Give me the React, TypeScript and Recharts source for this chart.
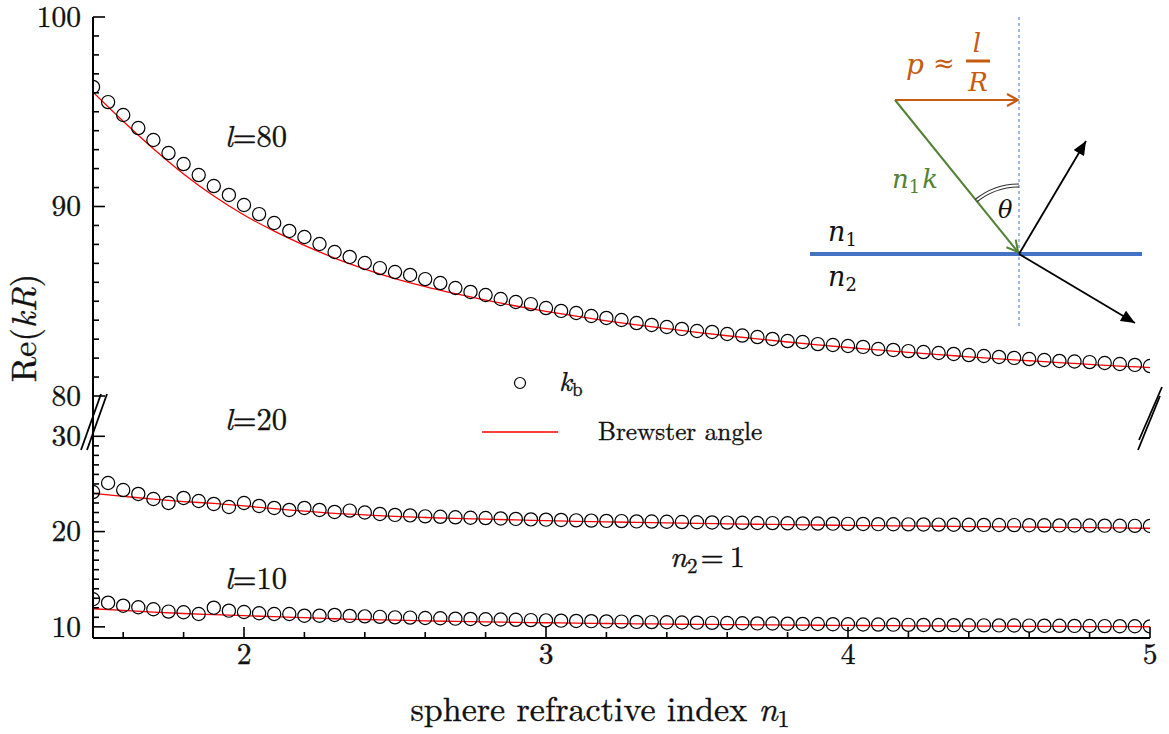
import React from "react";
import { ComposedChart, Line, XAxis, YAxis } from "recharts";

// sphere refractive index n1 (sampled points)
const N1 = [
  1.5, 1.55, 1.6, 1.65, 1.7, 1.75, 1.8, 1.85, 1.9, 1.95,
  2.0, 2.05, 2.1, 2.15, 2.2, 2.25, 2.3, 2.35, 2.4, 2.45,
  2.5, 2.55, 2.6, 2.65, 2.7, 2.75, 2.8, 2.85, 2.9, 2.95,
  3.0, 3.05, 3.1, 3.15, 3.2, 3.25, 3.3, 3.35, 3.4, 3.45,
  3.5, 3.55, 3.6, 3.65, 3.7, 3.75, 3.8, 3.85, 3.9, 3.95,
  4.0, 4.05, 4.1, 4.15, 4.2, 4.25, 4.3, 4.35, 4.4, 4.45,
  4.5, 4.55, 4.6, 4.65, 4.7, 4.75, 4.8, 4.85, 4.9, 4.95, 5.0,
];

// Re(kR) of k_b for l = 80, 20, 10
const KB_L80 = [
  96.31, 95.51, 94.83, 94.14, 93.51, 92.82, 92.24, 91.66, 91.08, 90.61,
  90.08, 89.6, 89.13, 88.71, 88.39, 88.02, 87.6, 87.34, 87.02, 86.75,
  86.54, 86.39, 86.17, 85.96, 85.7, 85.49, 85.33, 85.12, 84.96, 84.85,
  84.64, 84.49, 84.38, 84.22, 84.12, 84.01, 83.85, 83.75, 83.64, 83.54,
  83.43, 83.38, 83.27, 83.19, 83.11, 83.01, 82.9, 82.85, 82.74, 82.69,
  82.64, 82.59, 82.48, 82.43, 82.37, 82.32, 82.27, 82.22, 82.16, 82.11,
  82.06, 82.01, 81.95, 81.9, 81.85, 81.82, 81.79, 81.74, 81.69, 81.64, 81.58,
];
const KB_L20 = [
  24.15, 25.1, 24.36, 23.95, 23.42, 23.0, 23.53, 23.21, 22.9, 22.58,
  23.0, 22.69, 22.48, 22.27, 22.48, 22.27, 22.06, 22.2, 22.0, 21.85,
  21.75, 21.7, 21.6, 21.55, 21.5, 21.45, 21.42, 21.38, 21.33, 21.28,
  21.25, 21.22, 21.18, 21.15, 21.12, 21.1, 21.07, 21.05, 21.03, 21.0,
  20.98, 20.96, 20.94, 20.92, 20.9, 20.89, 20.87, 20.86, 20.84, 20.83,
  20.81, 20.8, 20.78, 20.77, 20.76, 20.75, 20.73, 20.72, 20.71, 20.7,
  20.69, 20.68, 20.67, 20.66, 20.65, 20.64, 20.63, 20.62, 20.61, 20.6, 20.59,
];
const KB_L10 = [
  12.9, 12.54, 12.22, 12.06, 11.85, 11.6, 11.53, 11.35, 12.01, 11.7,
  11.56, 11.43, 11.35, 11.35, 11.17, 11.17, 11.25, 11.15, 11.1, 11.05,
  11.0, 10.97, 10.93, 10.9, 10.86, 10.83, 10.8, 10.77, 10.74, 10.71,
  10.68, 10.65, 10.62, 10.6, 10.57, 10.55, 10.52, 10.5, 10.48, 10.46,
  10.44, 10.42, 10.4, 10.38, 10.36, 10.35, 10.33, 10.31, 10.3, 10.28,
  10.27, 10.25, 10.24, 10.23, 10.21, 10.2, 10.19, 10.18, 10.17, 10.16,
  10.15, 10.14, 10.13, 10.12, 10.11, 10.1, 10.09, 10.08, 10.07, 10.06, 10.05,
];

// Brewster-angle estimate
const N1_BA = [
  1.5, 1.6, 1.7, 1.8, 1.9, 2.0, 2.1, 2.2, 2.3, 2.4, 2.5, 2.6,
  2.7, 2.8, 2.9, 3.0, 3.1, 3.2, 3.3, 3.4, 3.5, 3.6, 3.7, 3.8,
  3.9, 4.0, 4.1, 4.2, 4.3, 4.4, 4.5, 4.6, 4.7, 4.8, 4.9, 5.0,
];
const BA_L80 = [
  96.04, 94.5, 93.05, 91.72, 90.55, 89.55, 88.7, 87.95, 87.28, 86.7, 86.2, 85.77,
  85.4, 85.06, 84.75, 84.47, 84.21, 83.97, 83.75, 83.55, 83.36, 83.18, 83.01, 82.85,
  82.7, 82.56, 82.43, 82.3, 82.18, 82.07, 81.96, 81.86, 81.76, 81.67, 81.58, 81.5,
];
const BA_L20 = [
  24.0, 23.7, 23.4, 23.15, 22.95, 22.7, 22.4, 22.15, 21.9, 21.75, 21.6, 21.48,
  21.38, 21.3, 21.22, 21.15, 21.08, 21.02, 20.96, 20.91, 20.86, 20.81, 20.77, 20.73,
  20.69, 20.65, 20.62, 20.59, 20.56, 20.53, 20.5, 20.47, 20.44, 20.41, 20.38, 20.35,
];
const BA_L10 = [
  11.9, 11.72, 11.55, 11.4, 11.28, 11.17, 11.07, 10.97, 10.85, 10.77, 10.7, 10.63,
  10.57, 10.52, 10.47, 10.43, 10.39, 10.35, 10.32, 10.29, 10.26, 10.24, 10.21, 10.19,
  10.17, 10.15, 10.13, 10.11, 10.1, 10.08, 10.07, 10.06, 10.04, 10.03, 10.02, 10.01,
];

const X_TICKS = [1.6, 1.8, 2, 2.2, 2.4, 2.6, 2.8, 3, 3.2, 3.4, 3.6, 3.8, 4, 4.2, 4.4, 4.6, 4.8, 5];
const Y_TICKS_HI = [80, 81, 82, 83, 84, 85, 86, 87, 88, 89, 90, 91, 92, 93, 94, 95, 96, 97, 98, 99, 100];
const Y_TICKS_LO = [10, 11, 12, 13, 14, 15, 16, 17, 18, 19, 20, 21, 22, 23, 24, 25, 26, 27, 28, 29, 30];

const zip = (xs: number[], ys: number[]) => xs.map((n, i) => ({ n, v: ys[i] }));

const LM = '"Latin Modern Roman", "Liberation Serif", serif';
const MATH = '"DejaVu Serif", serif';
const ORANGE = "#C55A11";
const GREEN = "#548235";
const BLUE = "#4472C4";
const INK = "#111";
// a hairline outline gives the thin LM glyphs a bit more weight
const heavy = { stroke: INK, strokeWidth: 0.35 };

const W = 1169;
const BREAK_Y = 396; // upper panel ends at the axis break
const TOP_H = 432; // extra room below so the "80" label is not cut
const BOT_H = 734 - BREAK_Y;

const isMajor = (v: number, step: number) => Math.abs(v / step - Math.round(v / step)) < 1e-6;

const leftTick = (props: any) => {
  const { x, y, payload } = props;
  const major = isMajor(payload.value, 10);
  return (
    <g>
      <line x1={x} x2={x + (major ? 12 : 6)} y1={y} y2={y} stroke="#000" strokeWidth={1.6} />
      {major && (
        <text x={x - 12} y={y} dy="0.33em" textAnchor="end" fontFamily={LM} fontSize={29.5} fill={INK} {...heavy}>
          {payload.value}
        </text>
      )}
    </g>
  );
};

const rightTick = (props: any) => {
  const { x, y, payload } = props;
  const major = isMajor(payload.value, 10);
  return <line x1={x} x2={x - (major ? 12 : 6)} y1={y} y2={y} stroke="#000" strokeWidth={1.6} />;
};

const topTick = (props: any) => {
  const { x, y, payload } = props;
  const major = isMajor(payload.value, 1);
  return <line x1={x} x2={x} y1={y} y2={y + (major ? 11 : 6)} stroke="#000" strokeWidth={1.6} />;
};

const bottomTick = (props: any) => {
  const { x, y, payload } = props;
  const major = isMajor(payload.value, 1);
  return (
    <g>
      <line x1={x} x2={x} y1={y} y2={y - (major ? 11 : 6)} stroke="#000" strokeWidth={1.6} />
      {major && (
        <text x={x} y={y + 26} textAnchor="middle" fontFamily={LM} fontSize={29.5} fill={INK} {...heavy}>
          {payload.value}
        </text>
      )}
    </g>
  );
};

const ring = (p: any) => (
  <circle key={`ring-${p.index}`} cx={p.cx} cy={p.cy} r={6.6} fill="none" stroke="#000" strokeWidth={1.2} />
);

const axisLine = { stroke: "#000", strokeWidth: 2 };

export default function App() {
  const hiRings = zip(N1, KB_L80);
  const midRings = zip(N1, KB_L20);
  const lowRings = zip(N1, KB_L10);
  const hiFit = zip(N1_BA, BA_L80);
  const midFit = zip(N1_BA, BA_L20);
  const lowFit = zip(N1_BA, BA_L10);

  return (
    <div style={{ position: "absolute", left: 0, top: 0, width: W, height: 734, background: "#fff" }}>
      {/* upper panel: 80..100 */}
      <div style={{ position: "absolute", left: 0, top: 0 }}>
        <ComposedChart width={W} height={TOP_H} margin={{ top: 17, right: 19, bottom: TOP_H - BREAK_Y, left: 0 }}>
          <XAxis
            xAxisId="x" type="number" dataKey="n" orientation="top" height={0}
            domain={[1.5, 5]} allowDataOverflow ticks={X_TICKS} interval={0}
            tickSize={0} tickMargin={0} tickLine={false} tick={topTick} axisLine={axisLine}
          />
          <YAxis
            yAxisId="y" orientation="left" width={93} domain={[80, 100]} allowDataOverflow
            ticks={Y_TICKS_HI} interval={0} tickSize={0} tickMargin={0} tickLine={false}
            tick={leftTick} axisLine={axisLine}
          />
          <YAxis
            yAxisId="yr" orientation="right" width={0} domain={[80, 100]} allowDataOverflow
            ticks={Y_TICKS_HI} interval={0} tickSize={0} tickMargin={0} tickLine={false}
            tick={rightTick} axisLine={axisLine}
          />
          <Line
            xAxisId="x" yAxisId="y" data={hiFit} dataKey="v" type="monotone"
            stroke="#ff0000" strokeWidth={1.3} dot={false} activeDot={false} isAnimationActive={false}
          />
          <Line
            xAxisId="x" yAxisId="y" data={hiRings} dataKey="v" stroke="none"
            dot={ring} activeDot={false} isAnimationActive={false}
          />
          <Line
            xAxisId="x" yAxisId="yr" data={hiRings} dataKey="v" stroke="none"
            dot={false} activeDot={false} isAnimationActive={false}
          />
        </ComposedChart>
      </div>

      {/* lower panel: 10..30 */}
      <div style={{ position: "absolute", left: 0, top: BREAK_Y }}>
        <ComposedChart width={W} height={BOT_H} margin={{ top: 0, right: 19, bottom: 0, left: 0 }}>
          <XAxis
            xAxisId="x" type="number" dataKey="n" orientation="bottom" height={96}
            domain={[1.5, 5]} allowDataOverflow ticks={X_TICKS} interval={0}
            tickSize={0} tickMargin={0} tickLine={false} tick={bottomTick} axisLine={axisLine}
          />
          <YAxis
            yAxisId="y" orientation="left" width={93} domain={[8.83, 34.23]} allowDataOverflow
            ticks={Y_TICKS_LO} interval={0} tickSize={0} tickMargin={0} tickLine={false}
            tick={leftTick} axisLine={axisLine}
          />
          <YAxis
            yAxisId="yr" orientation="right" width={0} domain={[8.83, 34.23]} allowDataOverflow
            ticks={Y_TICKS_LO} interval={0} tickSize={0} tickMargin={0} tickLine={false}
            tick={rightTick} axisLine={axisLine}
          />
          <Line
            xAxisId="x" yAxisId="y" data={midFit} dataKey="v" type="monotone"
            stroke="#ff0000" strokeWidth={1.3} dot={false} activeDot={false} isAnimationActive={false}
          />
          <Line
            xAxisId="x" yAxisId="y" data={lowFit} dataKey="v" type="monotone"
            stroke="#ff0000" strokeWidth={1.3} dot={false} activeDot={false} isAnimationActive={false}
          />
          <Line
            xAxisId="x" yAxisId="y" data={midRings} dataKey="v" stroke="none"
            dot={ring} activeDot={false} isAnimationActive={false}
          />
          <Line
            xAxisId="x" yAxisId="y" data={lowRings} dataKey="v" stroke="none"
            dot={ring} activeDot={false} isAnimationActive={false}
          />
          <Line
            xAxisId="x" yAxisId="yr" data={midRings} dataKey="v" stroke="none"
            dot={false} activeDot={false} isAnimationActive={false}
          />
        </ComposedChart>
      </div>

      {/* titles, labels, legend, axis break and the incidence sketch */}
      <svg
        width={W} height={734}
        style={{ position: "absolute", left: 0, top: 0, pointerEvents: "none" }}
      >
        <defs>
          <marker id="openOrange" viewBox="0 0 14 14" refX="13" refY="7" markerWidth="14" markerHeight="14"
            markerUnits="userSpaceOnUse" orient="auto">
            <path d="M2,1 L13,7 L2,13" fill="none" stroke={ORANGE} strokeWidth="2" />
          </marker>
          <marker id="openGreen" viewBox="0 0 14 14" refX="13" refY="7" markerWidth="14" markerHeight="14"
            markerUnits="userSpaceOnUse" orient="auto">
            <path d="M2,1 L13,7 L2,13" fill="none" stroke={GREEN} strokeWidth="2" />
          </marker>
          <marker id="solidBlack" viewBox="0 0 14 12" refX="14" refY="6" markerWidth="15" markerHeight="12"
            markerUnits="userSpaceOnUse" orient="auto">
            <path d="M0,0 L14,6 L0,12 Z" fill="#000" />
          </marker>
        </defs>

        {/* axis titles */}
        <text x={600} y={721} textAnchor="middle" fontFamily={LM} fontSize={34} fill={INK} {...heavy}>
          sphere refractive index <tspan fontStyle="italic">n</tspan>
          <tspan fontSize={24} dy={6}>1</tspan>
        </text>
        <text
          transform="translate(36,328) rotate(-90)" textAnchor="middle"
          fontFamily={LM} fontSize={34.5} fill={INK} {...heavy}
        >
          Re(<tspan fontStyle="italic">kR</tspan>)
        </text>

        {/* curve labels */}
        <text x={225} y={147} fontFamily={LM} fontSize={30.5} fill={INK} {...heavy}>
          <tspan fontStyle="italic">l</tspan>=80
        </text>
        <text x={225} y={430} fontFamily={LM} fontSize={30.5} fill={INK} {...heavy}>
          <tspan fontStyle="italic">l</tspan>=20
        </text>
        <text x={225} y={589} fontFamily={LM} fontSize={30.5} fill={INK} {...heavy}>
          <tspan fontStyle="italic">l</tspan>=10
        </text>
        <text x={670} y={567} fontFamily={LM} fontSize={30} fill={INK} {...heavy}>
          <tspan fontStyle="italic">n</tspan>
          <tspan fontSize={21} dy={6}>2</tspan>
          <tspan dy={-6} dx={3}>=</tspan>
          <tspan dx={6}>1</tspan>
        </text>

        {/* legend */}
        <circle cx={520} cy={383} r={5.5} fill="none" stroke="#000" strokeWidth={1.2} />
        <text x={559} y={391} fontFamily={LM} fontSize={28} fill={INK} {...heavy}>
          <tspan fontStyle="italic">k</tspan>
          <tspan fontSize={19} dy={5}>b</tspan>
        </text>
        <line x1={482} x2={558} y1={432} y2={432} stroke="#ff0000" strokeWidth={1.3} />
        <text x={598} y={440} fontFamily={LM} fontSize={25.3} fill={INK} {...heavy}>
          Brewster angle
        </text>

        {/* axis break marks */}
        <line x1={81} y1={450} x2={101} y2={394} stroke="#000" strokeWidth={1.8} />
        <line x1={87} y1={450} x2={107} y2={394} stroke="#000" strokeWidth={1.8} />
        <line x1={1138} y1={450} x2={1160} y2={396} stroke="#000" strokeWidth={1.8} />
        <line x1={1139} y1={440} x2={1162} y2={387} stroke="#000" strokeWidth={1.8} />

        {/* incidence sketch */}
        <line x1={1019} y1={17} x2={1019} y2={328} stroke={BLUE} strokeWidth={1} strokeDasharray="3 3" />
        <line x1={810} y1={254} x2={1142} y2={254} stroke={BLUE} strokeWidth={4} />
        <line x1={895} y1={100} x2={1018} y2={100} stroke={ORANGE} strokeWidth={2} markerEnd="url(#openOrange)" />
        <line x1={895} y1={100} x2={1018} y2={252} stroke={GREEN} strokeWidth={2} markerEnd="url(#openGreen)" />
        <line x1={1019} y1={254} x2={1086} y2={141} stroke="#000" strokeWidth={1.8} markerEnd="url(#solidBlack)" />
        <line x1={1019} y1={254} x2={1135} y2={323} stroke="#000" strokeWidth={1.8} markerEnd="url(#solidBlack)" />
        <path d="M977,201.8 A67,67 0 0,1 1019,187" fill="none" stroke="#333" strokeWidth={1.2} />
        <path d="M975.1,199.5 A70,70 0 0,1 1019,184" fill="none" stroke="#333" strokeWidth={1.2} />
        <text x={998} y={218} fontFamily={MATH} fontStyle="italic" fontSize={24} fill={INK}>θ</text>

        <text x={906} y={74} fontFamily={MATH} fontStyle="italic" fontSize={28} fill={ORANGE}>p</text>
        <text x={933} y={72} fontFamily={MATH} fontSize={26} fill={ORANGE}>≈</text>
        <text x={977} y={52} textAnchor="middle" fontFamily={MATH} fontStyle="italic" fontSize={26} fill={ORANGE}>l</text>
        <line x1={966} x2={990} y1={61} y2={61} stroke={ORANGE} strokeWidth={3} />
        <text x={978} y={91} textAnchor="middle" fontFamily={MATH} fontStyle="italic" fontSize={26} fill={ORANGE}>R</text>

        <text x={892} y={188} fontFamily={MATH} fontStyle="italic" fontSize={26} fill={GREEN}>
          n<tspan fontStyle="normal" fontSize={18} dy={5}>1</tspan>
          <tspan dy={-5} dx={2}>k</tspan>
        </text>
        <text x={828} y={241} fontFamily={MATH} fontStyle="italic" fontSize={27} fill={INK}>
          n<tspan fontStyle="normal" fontSize={18} dy={5}>1</tspan>
        </text>
        <text x={828} y={286} fontFamily={MATH} fontStyle="italic" fontSize={27} fill={INK}>
          n<tspan fontStyle="normal" fontSize={18} dy={5}>2</tspan>
        </text>
      </svg>
    </div>
  );
}
